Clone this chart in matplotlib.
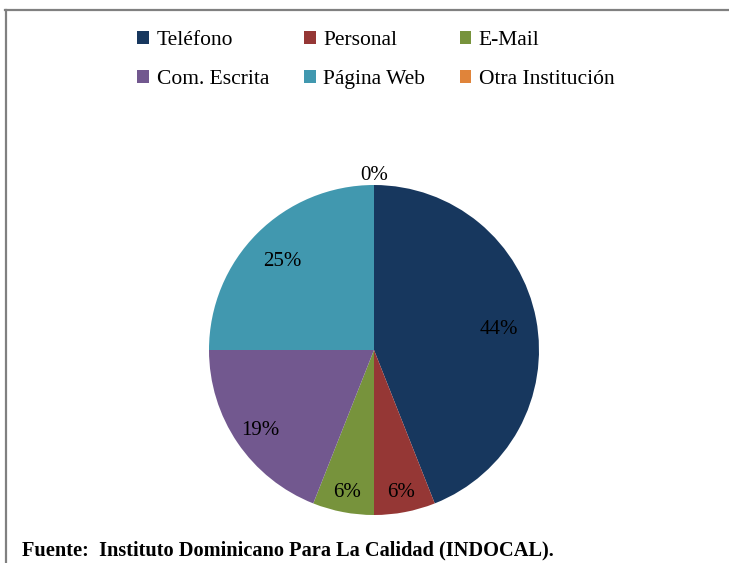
import matplotlib.pyplot as plt
from matplotlib.patches import Patch
from matplotlib.lines import Line2D
import numpy as np

plt.rcParams['font.family'] = ['Liberation Serif', 'DejaVu Serif']

categories = ['Teléfono', 'Personal', 'E-Mail', 'Com. Escrita', 'Página Web', 'Otra Institución']
values = [44, 6, 6, 19, 25, 0]
colors = ['#17375E', '#953735', '#77933C', '#72588F', '#4198AF', '#E0843A']
# radius of each percent label (fraction of pie radius)
label_r = [0.77, 0.86, 0.86, 0.83, 0.79, 1.08]

W, H = 729, 563
fig = plt.figure(figsize=(W / 100, H / 100), dpi=100)

# chart frame (top and left edges visible)
fig.add_artist(Line2D([5 / W, 1], [1 - 9.5 / H, 1 - 9.5 / H], color='#808080', lw=1.6))
fig.add_artist(Line2D([6 / W, 6 / W], [1 - 9.5 / H, 0], color='#808080', lw=1.6))

cx, cy, r = 374, 350, 165
ax = fig.add_axes([(cx - r) / W, (H - cy - r) / H, 2 * r / W, 2 * r / H])
wedges, _ = ax.pie(values, colors=colors, startangle=90, counterclock=False,
                   radius=1, wedgeprops=dict(linewidth=0))
ax.set_xlim(-1, 1)
ax.set_ylim(-1, 1)
ax.set_aspect('equal')
ax.axis('off')

for w, v, d in zip(wedges, values, label_r):
    ang = np.deg2rad((w.theta1 + w.theta2) / 2)
    ax.text(d * np.cos(ang), d * np.sin(ang) - 0.02, f'{v}%', ha='center', va='center',
            fontsize=15, color='black', clip_on=False)

# legend fills column-wise, so reorder to read row by row
order = [0, 3, 1, 4, 2, 5]
handles = [Patch(facecolor=colors[i], edgecolor='none') for i in order]
labels = [categories[i] for i in order]
fig.legend(handles, labels, loc='center', bbox_to_anchor=(376 / W, 1 - 60 / H),
           ncol=3, frameon=False, fontsize=15.5, handlelength=0.55, handleheight=0.55,
           handletextpad=0.35, columnspacing=1.6, labelspacing=0.9)

fig.text(22 / W, 1 - 550 / H, 'Fuente:  Instituto Dominicano Para La Calidad (INDOCAL).',
         fontsize=14.7, fontweight='bold', ha='left', va='center')

fig.savefig('out.png', dpi=100)
